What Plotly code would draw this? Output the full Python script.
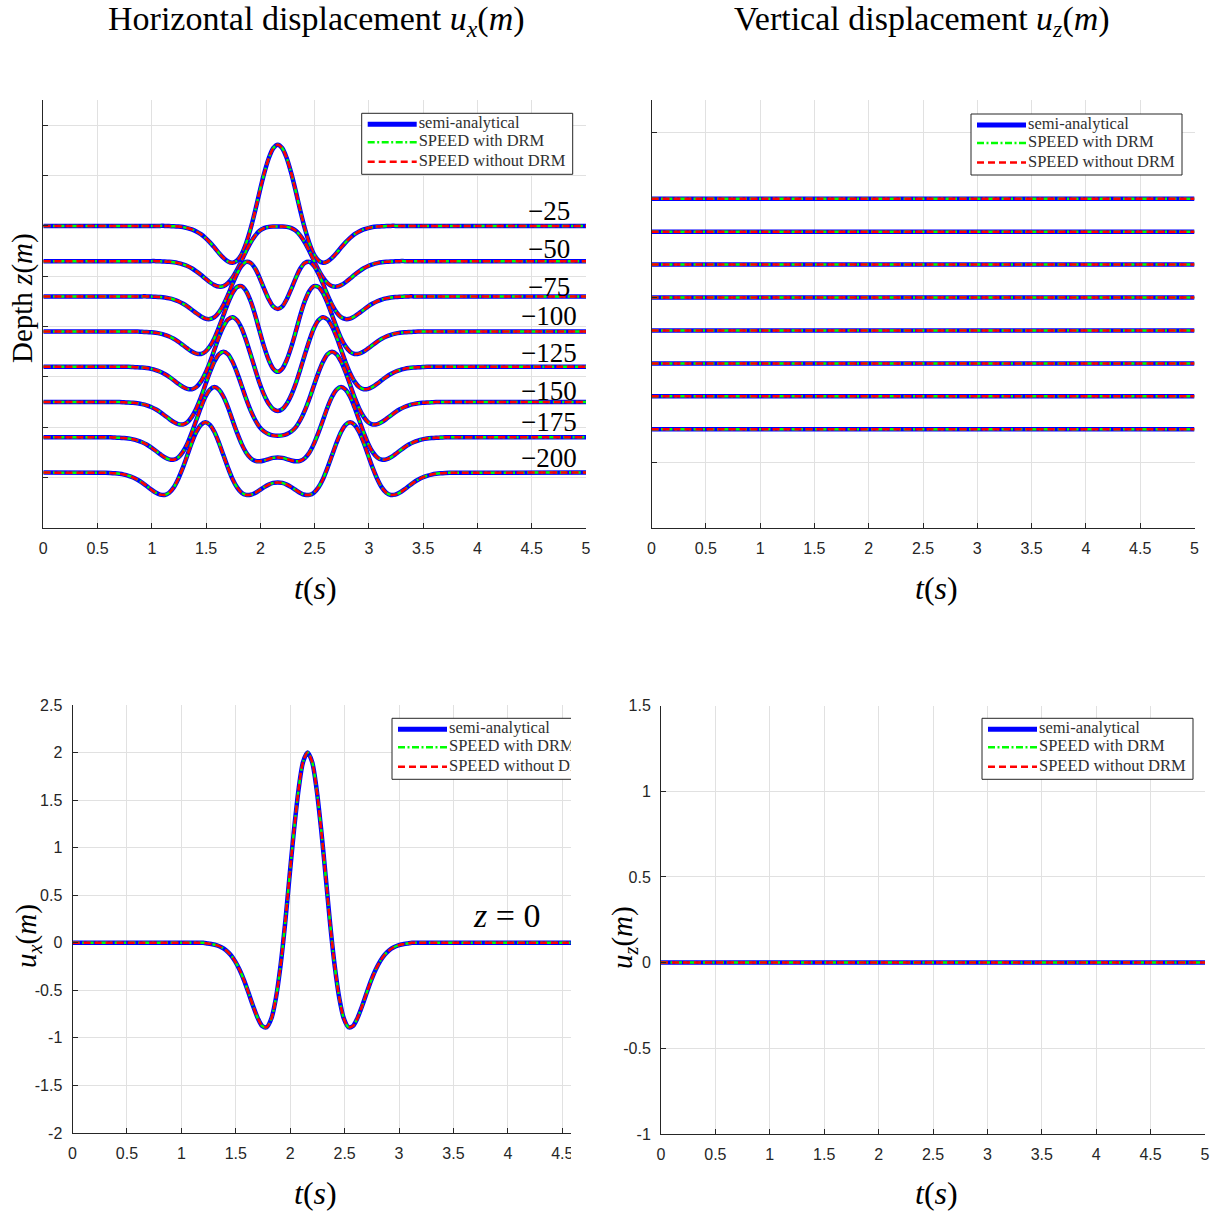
import plotly.graph_objects as go

FIG_W, FIG_H = 1221, 1212

# ---------------------------------------------------------------------------
# Data
# ---------------------------------------------------------------------------
# time samples (s) shared by all horizontal-displacement records
TIME_S = [0.0,
          0.577, 0.618, 0.66, 0.702, 0.743, 0.785, 0.827, 0.868, 0.91, 0.952,
          0.993, 1.035, 1.077, 1.118, 1.16, 1.202, 1.243, 1.285, 1.327, 1.368,
          1.41, 1.452, 1.493, 1.535, 1.577, 1.618, 1.66, 1.702, 1.743, 1.785,
          1.827, 1.868, 1.91, 1.952, 1.993, 2.035, 2.077, 2.118,
          2.16,
          2.202, 2.243, 2.285, 2.327, 2.368, 2.41, 2.452, 2.493, 2.535, 2.577,
          2.618, 2.66, 2.702, 2.743, 2.785, 2.827, 2.868, 2.91, 2.952, 2.993,
          3.035, 3.077, 3.118, 3.16, 3.202, 3.243, 3.285, 3.327, 3.368, 3.41,
          3.452, 3.493, 3.535, 3.577, 3.618, 3.66, 3.702, 3.743,
          5.0]

# horizontal displacement u_x (m) at the free surface, z = 0
UX_Z0 = [0.0,
         0, 0, 0, 0, 0, 0, 0, 0, 0, 0,
         0, 0, 0, 0, 0, 0, -0.008, -0.015, -0.027, -0.047,
         -0.078, -0.126, -0.193, -0.284, -0.398, -0.529, -0.667, -0.792, -0.875, -0.887,
         -0.797, -0.587, -0.252, 0.187, 0.687, 1.185, 1.612, 1.899,
         2.000,
         1.899, 1.612, 1.185, 0.687, 0.187, -0.252, -0.587, -0.797, -0.887, -0.875,
         -0.792, -0.667, -0.529, -0.398, -0.284, -0.193, -0.126, -0.078, -0.047, -0.027,
         -0.015, -0.008, 0, 0, 0, 0, 0, 0, 0, 0,
         0, 0, 0, 0, 0, 0, 0, 0,
         0.0]

# horizontal displacement u_x (m) at depth z = -25 m ... -200 m
UX_Z25 = [0.0,
          0, 0, 0, 0, 0, 0, 0, 0, 0, 0,
          0, 0, 0, 0, -0.004, -0.007, -0.013, -0.023, -0.043, -0.070,
          -0.110, -0.165, -0.238, -0.328, -0.431, -0.538, -0.636, -0.708, -0.733, -0.689,
          -0.563, -0.350, -0.056, 0.300, 0.680, 1.042, 1.343, 1.542,
          1.612,
          1.542, 1.343, 1.042, 0.680, 0.300, -0.056, -0.350, -0.563, -0.689, -0.733,
          -0.708, -0.636, -0.538, -0.431, -0.328, -0.238, -0.165, -0.110, -0.070, -0.043,
          -0.023, -0.013, -0.007, -0.004, 0, 0, 0, 0, 0, 0,
          0, 0, 0, 0, 0, 0, 0, 0,
          0.0]

UX_Z50 = [0.0,
          0, 0, 0, 0, 0, 0, 0, 0, 0, 0,
          0, 0, -0.004, -0.007, -0.013, -0.023, -0.039, -0.063, -0.097, -0.142,
          -0.203, -0.272, -0.347, -0.419, -0.476, -0.506, -0.496, -0.435, -0.325, -0.172,
          0.009, 0.197, 0.369, 0.506, 0.601, 0.656, 0.680, 0.686,
          0.686,
          0.686, 0.680, 0.656, 0.601, 0.506, 0.369, 0.197, 0.009, -0.172, -0.325,
          -0.435, -0.496, -0.506, -0.476, -0.419, -0.347, -0.272, -0.203, -0.142, -0.097,
          -0.063, -0.039, -0.023, -0.013, -0.007, -0.004, 0, 0, 0, 0,
          0, 0, 0, 0, 0, 0, 0, 0,
          0.0]

UX_Z75 = [0.0,
          0, 0, 0, 0, 0, 0, 0, 0, 0, 0,
          -0.004, -0.007, -0.013, -0.023, -0.039, -0.063, -0.097, -0.142, -0.199, -0.265,
          -0.334, -0.396, -0.441, -0.450, -0.412, -0.316, -0.165, 0.030, 0.246, 0.451,
          0.607, 0.684, 0.666, 0.553, 0.369, 0.150, -0.056, -0.200,
          -0.252,
          -0.200, -0.056, 0.150, 0.369, 0.553, 0.666, 0.684, 0.607, 0.451, 0.246,
          0.030, -0.165, -0.316, -0.412, -0.450, -0.441, -0.396, -0.334, -0.265, -0.199,
          -0.142, -0.097, -0.063, -0.039, -0.023, -0.013, -0.007, -0.004, 0, 0,
          0, 0, 0, 0, 0, 0, 0, 0,
          0.0]

UX_Z100 = [0.0,
           0, 0, 0, 0, 0, 0, 0, 0, -0.004, -0.007,
           -0.013, -0.023, -0.039, -0.063, -0.097, -0.142, -0.199, -0.265, -0.334, -0.396,
           -0.437, -0.443, -0.399, -0.293, -0.130, 0.086, 0.330, 0.570, 0.767, 0.886,
           0.903, 0.807, 0.607, 0.328, 0.009, -0.303, -0.563, -0.736,
           -0.798,
           -0.736, -0.563, -0.303, 0.009, 0.328, 0.607, 0.807, 0.903, 0.886, 0.767,
           0.570, 0.330, 0.086, -0.130, -0.293, -0.399, -0.443, -0.437, -0.396, -0.334,
           -0.265, -0.199, -0.142, -0.097, -0.063, -0.039, -0.023, -0.013, -0.007, -0.004,
           0, 0, 0, 0, 0, 0, 0, 0,
           0.0]

UX_Z125 = [0.0,
           0, 0, 0, 0, 0, 0, -0.004, -0.007, -0.013, -0.023,
           -0.039, -0.063, -0.097, -0.142, -0.199, -0.265, -0.334, -0.396, -0.437, -0.443,
           -0.399, -0.293, -0.126, 0.093, 0.343, 0.593, 0.802, 0.942, 0.987, 0.926,
           0.767, 0.530, 0.246, -0.049, -0.325, -0.558, -0.733, -0.839,
           -0.874,
           -0.839, -0.733, -0.558, -0.325, -0.049, 0.246, 0.530, 0.767, 0.926, 0.987,
           0.942, 0.802, 0.593, 0.343, 0.093, -0.126, -0.293, -0.399, -0.443, -0.437,
           -0.396, -0.334, -0.265, -0.199, -0.142, -0.097, -0.063, -0.039, -0.023, -0.013,
           -0.007, -0.004, 0, 0, 0, 0, 0, 0,
           0.0]

UX_Z150 = [0.0,
           0, 0, 0, 0, -0.004, -0.007, -0.013, -0.023, -0.039, -0.063,
           -0.097, -0.142, -0.199, -0.265, -0.334, -0.396, -0.437, -0.443, -0.399, -0.293,
           -0.126, 0.093, 0.343, 0.593, 0.806, 0.949, 1.000, 0.949, 0.802, 0.586,
           0.330, 0.070, -0.165, -0.356, -0.496, -0.585, -0.636, -0.661,
           -0.668,
           -0.661, -0.636, -0.585, -0.496, -0.356, -0.165, 0.070, 0.330, 0.586, 0.802,
           0.949, 1.000, 0.949, 0.806, 0.593, 0.343, 0.093, -0.126, -0.293, -0.399,
           -0.443, -0.437, -0.396, -0.334, -0.265, -0.199, -0.142, -0.097, -0.063, -0.039,
           -0.023, -0.013, -0.007, -0.004, 0, 0, 0, 0,
           0.0]

UX_Z175 = [0.0,
           0, 0, -0.004, -0.007, -0.013, -0.023, -0.039, -0.063, -0.097, -0.142,
           -0.199, -0.265, -0.334, -0.396, -0.437, -0.443, -0.399, -0.293, -0.126, 0.093,
           0.343, 0.593, 0.806, 0.949, 1.000, 0.949, 0.806, 0.593, 0.343, 0.093,
           -0.130, -0.300, -0.412, -0.466, -0.476, -0.459, -0.431, -0.407,
           -0.398,
           -0.407, -0.431, -0.459, -0.476, -0.466, -0.412, -0.300, -0.130, 0.093, 0.343,
           0.593, 0.806, 0.949, 1.000, 0.949, 0.806, 0.593, 0.343, 0.093, -0.126,
           -0.293, -0.399, -0.443, -0.437, -0.396, -0.334, -0.265, -0.199, -0.142, -0.097,
           -0.063, -0.039, -0.023, -0.013, -0.007, -0.004, 0, 0,
           0.0]

UX_Z200 = [0.0,
           -0.004, -0.007, -0.013, -0.023, -0.039, -0.063, -0.097, -0.142, -0.199, -0.265,
           -0.334, -0.396, -0.437, -0.443, -0.399, -0.293, -0.126, 0.093, 0.343, 0.593,
           0.806, 0.949, 1.000, 0.949, 0.806, 0.593, 0.343, 0.093, -0.126, -0.293,
           -0.399, -0.443, -0.441, -0.403, -0.347, -0.288, -0.238, -0.205,
           -0.194,
           -0.205, -0.238, -0.288, -0.347, -0.403, -0.441, -0.443, -0.399, -0.293, -0.126,
           0.093, 0.343, 0.593, 0.806, 0.949, 1.000, 0.949, 0.806, 0.593, 0.343,
           0.093, -0.126, -0.293, -0.399, -0.443, -0.437, -0.396, -0.334, -0.265, -0.199,
           -0.142, -0.097, -0.063, -0.039, -0.023, -0.013, -0.007, -0.004,
           0.0]

DEPTHS_M = [-25, -50, -75, -100, -125, -150, -175, -200]
UX_BY_DEPTH = [UX_Z25, UX_Z50, UX_Z75, UX_Z100, UX_Z125, UX_Z150, UX_Z175, UX_Z200]

# vertical displacement u_z (m): identically zero at every depth and at z = 0
UZ_TIME_S = [0.0, 5.0]
UZ_ZERO = [0.0, 0.0]

SERIES_NAMES = ["semi-analytical", "SPEED with DRM", "SPEED without DRM"]

for rec in [UX_Z0] + UX_BY_DEPTH:
    assert len(rec) == len(TIME_S)

# ---------------------------------------------------------------------------
# Styling
# ---------------------------------------------------------------------------
SERIF = "Liberation Serif"
SANS = "Liberation Sans"
AX_COLOR = "#262626"
GRID_COLOR = "#e1e1e1"

SERIES_STYLE = [
    dict(color="#0000ff", width=4.5, dash="solid"),
    dict(color="#00ff00", width=2.5, dash="7px,2.5px,2px,2.5px"),
    dict(color="#ff0000", width=2.5, dash="7px,4px"),
]

UX_SPACING = 0.7      # vertical offset between stacked u_x records
UZ_TOP = 0.3          # offset of the shallowest u_z record
UZ_SPACING = 0.1      # vertical offset between stacked u_z records

# pixel frame of every panel: px_x -> range_x, px_y (bottom, top) -> range_y
PANELS = {
    "tl": dict(xa="x", ya="y", px_x=(43.3, 586.0), range_x=(0, 5),
               px_y=(528.0, 100.0), range_y=(-6, 2.5)),
    "tr": dict(xa="x2", ya="y2", px_x=(651.5, 1194.5), range_x=(0, 5),
               px_y=(528.0, 100.0), range_y=(-0.7, 0.6)),
    "bl": dict(xa="x3", ya="y3", px_x=(72.5, 571.0), range_x=(0, 4.58),
               px_y=(1133.0, 705.0), range_y=(-2, 2.5)),
    "br": dict(xa="x4", ya="y4", px_x=(661.0, 1205.0), range_x=(0, 5),
               px_y=(1134.0, 705.5), range_y=(-1, 1.5)),
}


def px_to_x(p, px):
    (a, b), (r0, r1) = p["px_x"], p["range_x"]
    return r0 + (px - a) * (r1 - r0) / (b - a)


def px_to_y(p, py):
    (a, b), (r0, r1) = p["px_y"], p["range_y"]
    return r0 + (py - a) * (r1 - r0) / (b - a)


def paper(px, py):
    return px / FIG_W, 1 - py / FIG_H


fig = go.Figure()


def add_record(panel, t, y):
    p = PANELS[panel]
    for st in SERIES_STYLE:
        fig.add_trace(go.Scatter(
            x=t, y=y, mode="lines", xaxis=p["xa"], yaxis=p["ya"],
            line=dict(color=st["color"], width=st["width"], dash=st["dash"],
                      shape="spline", smoothing=0.8),
            showlegend=False, hoverinfo="skip"))


# stacked horizontal records
for i, rec in enumerate(UX_BY_DEPTH):
    add_record("tl", TIME_S, [v - UX_SPACING * i for v in rec])

# stacked vertical records
for i in range(len(DEPTHS_M)):
    add_record("tr", UZ_TIME_S, [v + UZ_TOP - UZ_SPACING * i for v in UZ_ZERO])

# surface records
add_record("bl", TIME_S, UX_Z0)
add_record("br", UZ_TIME_S, UZ_ZERO)

# ---------------------------------------------------------------------------
# Legends (boxed, drawn inside each axes so they clip with it)
# ---------------------------------------------------------------------------
LEGEND_BOX = {"tl": (361.7, 113.3), "tr": (971.0, 114.0),
              "bl": (392.0, 718.3), "br": (982.0, 718.3)}
LEG_W, LEG_H = 211, 61
LEG_ROWS = [11, 29, 48.4]

shapes = []
for key, (lx, ty) in LEGEND_BOX.items():
    p = PANELS[key]
    shapes.append(dict(type="rect", xref=p["xa"], yref=p["ya"], layer="between",
                       x0=px_to_x(p, lx), x1=px_to_x(p, lx + LEG_W),
                       y0=px_to_y(p, ty + LEG_H), y1=px_to_y(p, ty),
                       fillcolor="white", line=dict(color=AX_COLOR, width=1)))
    for name, st, row in zip(SERIES_NAMES, SERIES_STYLE, LEG_ROWS):
        yy = px_to_y(p, ty + row)
        shapes.append(dict(type="line", xref=p["xa"], yref=p["ya"], layer="between",
                           x0=px_to_x(p, lx + 6), x1=px_to_x(p, lx + 55), y0=yy, y1=yy,
                           line=dict(color=st["color"], width=st["width"] if st["width"] < 4 else 5,
                                     dash=st["dash"])))
        fig.add_trace(go.Scatter(
            x=[px_to_x(p, lx + 57)], y=[yy], mode="text", text=[name],
            textposition="middle right", cliponaxis=True,
            textfont=dict(family=SERIF, size=16.5, color="#303030"),
            xaxis=p["xa"], yaxis=p["ya"], showlegend=False, hoverinfo="skip"))

# white strip that trims the lower-left axes where the lower-right axes begins
shapes.append(dict(type="rect", xref="paper", yref="paper", layer="above",
                   x0=571 / FIG_W, x1=600 / FIG_W, y0=1 - 1172 / FIG_H, y1=1 - 1136 / FIG_H,
                   fillcolor="white", line=dict(width=0)))

# ---------------------------------------------------------------------------
# Axes
# ---------------------------------------------------------------------------


def axis(p, which, **kw):
    if which == "x":
        dom = [p["px_x"][0] / FIG_W, p["px_x"][1] / FIG_W]
        rng = list(p["range_x"])
    else:
        dom = [1 - p["px_y"][0] / FIG_H, 1 - p["px_y"][1] / FIG_H]
        rng = list(p["range_y"])
    d = dict(domain=dom, range=rng, showline=True, linecolor=AX_COLOR, linewidth=1,
             mirror=False, ticks="inside", ticklen=5, tickwidth=1, tickcolor=AX_COLOR,
             showgrid=True, gridcolor=GRID_COLOR, gridwidth=1, zeroline=False,
             tickfont=dict(family=SANS, size=16, color=AX_COLOR), fixedrange=True)
    d.update(kw)
    return d


T_TICKS = [0, 0.5, 1, 1.5, 2, 2.5, 3, 3.5, 4, 4.5, 5]
T_TEXT = ["0", "0.5", "1", "1.5", "2", "2.5", "3", "3.5", "4", "4.5", "5"]
BL_Y_TICKS = [-2, -1.5, -1, -0.5, 0, 0.5, 1, 1.5, 2, 2.5]
BL_Y_TEXT = ["-2", "-1.5", "-1", "-0.5", "0", "0.5", "1", "1.5", "2", "2.5"]
BR_Y_TICKS = [-1, -0.5, 0, 0.5, 1, 1.5]
BR_Y_TEXT = ["-1", "-0.5", "0", "0.5", "1", "1.5"]

xt = dict(tickvals=T_TICKS, ticktext=T_TEXT, ticklabelstandoff=6)
layout_axes = dict(
    xaxis=axis(PANELS["tl"], "x", anchor="y", **xt),
    yaxis=axis(PANELS["tl"], "y", anchor="x", dtick=1, tick0=0, showticklabels=False),
    xaxis2=axis(PANELS["tr"], "x", anchor="y2", **xt),
    yaxis2=axis(PANELS["tr"], "y", anchor="x2", dtick=0.5, tick0=0, showticklabels=False),
    xaxis3=axis(PANELS["bl"], "x", anchor="y3", **xt),
    yaxis3=axis(PANELS["bl"], "y", anchor="x3", tickvals=BL_Y_TICKS, ticktext=BL_Y_TEXT,
                ticklabelstandoff=6),
    xaxis4=axis(PANELS["br"], "x", anchor="y4", **xt),
    yaxis4=axis(PANELS["br"], "y", anchor="x4", tickvals=BR_Y_TICKS, ticktext=BR_Y_TEXT,
                ticklabelstandoff=6),
)

# ---------------------------------------------------------------------------
# Text
# ---------------------------------------------------------------------------
annotations = []


def label(text, px, py, size, angle=0):
    x, y = paper(px, py)
    annotations.append(dict(text=text, x=x, y=y, xref="paper", yref="paper",
                            xanchor="center", yanchor="middle", showarrow=False,
                            textangle=angle, font=dict(family=SERIF, size=size, color="black")))


label("Horizontal displacement <i>u</i><sub><i>x</i></sub>(<i>m</i>)", 316.5, 21, 34)
label("Vertical displacement <i>u</i><sub><i>z</i></sub>(<i>m</i>)", 921.5, 21, 34)
label("Depth <i>z</i>(<i>m</i>)", 22, 298, 29, -90)
label("<i>u</i><sub><i>x</i></sub>(<i>m</i>)", 28, 936, 29, -90)
label("<i>u</i><sub><i>z</i></sub>(<i>m</i>)", 624, 938, 29, -90)
for cx, cy in [(316, 588), (936, 588), (316, 1193), (936, 1193)]:
    label("<i>t</i>(<i>s</i>)", cx, cy, 32)
label("<i>z</i> = 0", 506, 915, 34)

# depth tags next to each stacked record
DEPTH_TAG_PX_Y = [210.7, 248.7, 286.5, 315.5, 353.0, 390.5, 422.0, 458.0]
tl = PANELS["tl"]
for d, py in zip(DEPTHS_M, DEPTH_TAG_PX_Y):
    annotations.append(dict(text="\u2212" + str(abs(d)), x=px_to_x(tl, 549), y=px_to_y(tl, py),
                            xref="x", yref="y", xanchor="center", yanchor="middle",
                            showarrow=False, font=dict(family=SERIF, size=27, color="black")))

fig.update_layout(
    width=FIG_W, height=FIG_H, autosize=False,
    margin=dict(l=0, r=0, t=0, b=0),
    paper_bgcolor="white", plot_bgcolor="white",
    template="none", showlegend=False,
    shapes=shapes, annotations=annotations,
    **layout_axes)

fig.write_html("out.html")
